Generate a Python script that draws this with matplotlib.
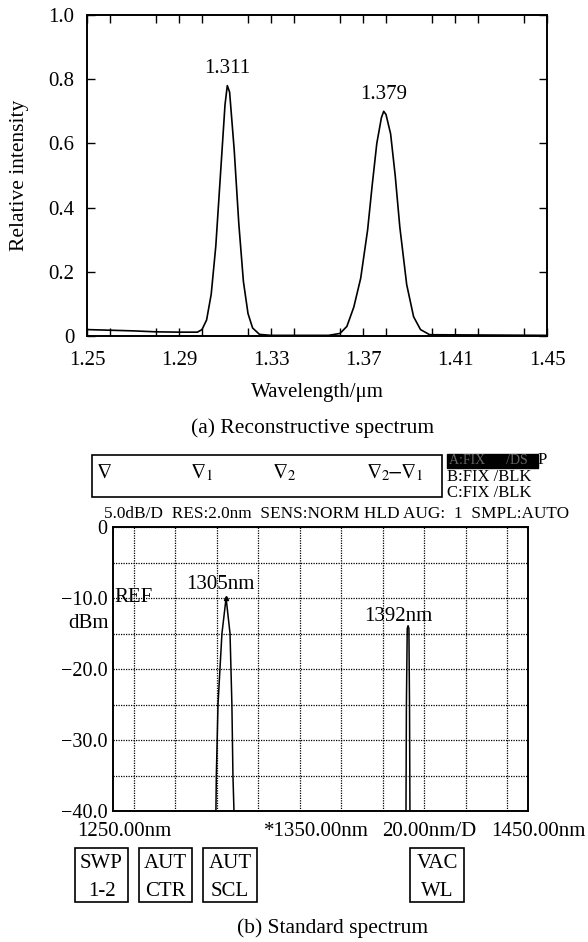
import matplotlib
matplotlib.use('Agg')
import matplotlib.pyplot as plt
from matplotlib.patches import Rectangle
from matplotlib.ticker import MultipleLocator

plt.rcParams['font.family'] = ['Liberation Serif', 'DejaVu Serif']
plt.rcParams['mathtext.fontset'] = 'stix'

W, H = 588, 942

# (a) reconstructive spectrum
recon_wl = [1.250, 1.260, 1.270, 1.280, 1.290, 1.298, 1.300, 1.302, 1.304, 1.306,
            1.308, 1.310, 1.311, 1.312, 1.314, 1.316, 1.318, 1.320, 1.322, 1.325,
            1.330, 1.355, 1.360, 1.363, 1.366, 1.369, 1.372, 1.374, 1.376, 1.378,
            1.379, 1.380, 1.382, 1.384, 1.386, 1.389, 1.392, 1.395, 1.399, 1.450]
recon_int = [0.020, 0.018, 0.016, 0.013, 0.012, 0.012, 0.020, 0.050, 0.130, 0.280,
             0.500, 0.720, 0.780, 0.760, 0.580, 0.350, 0.170, 0.070, 0.025, 0.005,
             0.002, 0.002, 0.008, 0.030, 0.090, 0.180, 0.330, 0.470, 0.600, 0.680,
             0.700, 0.690, 0.630, 0.500, 0.340, 0.160, 0.060, 0.020, 0.004, 0.002]
peak_labels_a = ['1.311', '1.379']
peak_pos_a = [1.311, 1.379]
peak_val_a = [0.78, 0.70]

# (b) standard spectrum (OSA trace, nm / dBm)
osa_wl = [1250.0, 1299.0, 1299.6, 1299.8, 1300.6, 1302.5, 1304.5, 1306.4, 1307.3,
          1307.8, 1308.3, 1309.0, 1390.8, 1391.2, 1391.4, 1391.8, 1392.2, 1392.6,
          1392.9, 1393.1, 1393.5, 1450.0]
osa_dbm = [-45, -45, -40, -35, -25, -15, -10, -15, -25,
           -35, -40, -45, -45, -40, -25, -14.3, -13.9, -14.3,
           -25, -40, -45, -45]
peak_labels_b = ['1305nm', '1392nm']
peak_pos_b = [1304.5, 1392.2]
peak_val_b = [-10.0, -13.9]


def fx(x):
    return x / W


def fy(y):
    return 1 - y / H


fig = plt.figure(figsize=(W / 100, H / 100), dpi=100)

# ---------------- top panel ----------------
ax1 = fig.add_axes([fx(87), fy(336), fx(547) - fx(87), fy(15) - fy(336)])
ax1.plot(recon_wl, recon_int, color='black', lw=1.2)
ax1.set_xlim(1.25, 1.45)
ax1.set_ylim(0, 1.0)
ax1.xaxis.set_minor_locator(MultipleLocator(0.02))
ax1.tick_params(which='both', direction='in', top=True, right=True, length=6, width=1)
ax1.set_xticks([1.25, 1.29, 1.33, 1.37, 1.41, 1.45])
ax1.set_xticklabels(['1.25', '1.29', '1.33', '1.37', '1.41', '1.45'], fontsize=15)
ax1.set_yticks([0, 0.2, 0.4, 0.6, 0.8, 1.0])
ax1.set_yticklabels(['0', '0.2', '0.4', '0.6', '0.8', '1.0'], fontsize=15)
ax1.tick_params(axis='x', pad=11)
ax1.tick_params(axis='y', pad=9)
for s in ax1.spines.values():
    s.set_linewidth(1.4)
ax1.set_xlabel('Wavelength/\u03bcm', fontsize=15, labelpad=9)
ax1.set_ylabel('Relative intensity', fontsize=15.5, labelpad=14)
for lab, xp, yp in zip(peak_labels_a, peak_pos_a, peak_val_a):
    ax1.text(xp, yp + 0.052, lab, ha='center', va='center', fontsize=15)

fig.text(fx(313), fy(428), '(a) Reconstructive spectrum', ha='center', va='center',
         fontsize=15.5)

# ---------------- OSA header ----------------
fig.patches.append(Rectangle((fx(92), fy(497)), fx(442) - fx(92), fy(455) - fy(497),
                             transform=fig.transFigure, fill=False, lw=1.2,
                             edgecolor='black'))
marks = [(104, r'$\nabla$'), (202, r'$\nabla_1$'), (284, r'$\nabla_2$'),
         (395, r'$\nabla_2\!\!-\!\!\nabla_1$')]
for xm, t in marks:
    fig.text(fx(xm), fy(473), t, ha='center', va='center', fontsize=15)

fig.patches.append(Rectangle((fx(447), fy(468)), fx(538) - fx(447), fy(454) - fy(468),
                             transform=fig.transFigure, facecolor='black',
                             edgecolor='black'))
fig.text(fx(449), fy(461), 'A:FIX      /DS', ha='left', va='center', fontsize=10,
         color='0.4')
fig.text(fx(538), fy(460), 'P', ha='left', va='center', fontsize=12)
fig.text(fx(447), fy(477), 'B:FIX /BLK', ha='left', va='center', fontsize=12)
fig.text(fx(447), fy(493), 'C:FIX /BLK', ha='left', va='center', fontsize=12)
fig.text(fx(104), fy(514), '5.0dB/D  RES:2.0nm  SENS:NORM HLD AUG:  1  SMPL:AUTO',
         ha='left', va='center', fontsize=12.4)

# ---------------- bottom panel ----------------
ax2 = fig.add_axes([fx(113), fy(811), fx(528) - fx(113), fy(527) - fy(811)])
ax2.plot(osa_wl, osa_dbm, color='black', lw=1.1)
ax2.set_xlim(1250, 1450)
ax2.set_ylim(-40, 0)
ax2.xaxis.set_major_locator(MultipleLocator(20))
ax2.grid(True, color='black', linestyle=(0, (1, 1)), lw=0.9)
ax2.set_xticklabels([])
ax2.set_yticks([0, -5, -10, -15, -20, -25, -30, -35, -40])
ax2.set_yticklabels(['0', '', '\u221210.0', '', '\u221220.0', '', '\u221230.0', '',
                     '\u221240.0'], fontsize=14.5)
ax2.tick_params(length=0, pad=4)
for s in ax2.spines.values():
    s.set_linewidth(1.4)
label_shift = [-3.0, -4.5]
label_gap = [0.5, 0.0]
for lab, xp, yp, dx, dy in zip(peak_labels_b, peak_pos_b, peak_val_b, label_shift,
                               label_gap):
    ax2.text(xp + dx, yp + dy, lab, ha='center', va='bottom', fontsize=15)
ax2.plot([peak_pos_b[0]], [peak_val_b[0]], marker='^', color='black', ms=3)

fig.text(fx(114), fy(598), 'REF', ha='left', va='center', fontsize=15)
fig.text(fx(109), fy(623), 'dBm', ha='right', va='center', fontsize=15)

fig.text(fx(77), fy(832), '1250.00nm', ha='left', va='center', fontsize=15)
fig.text(fx(264), fy(832), '*1350.00nm', ha='left', va='center', fontsize=15)
fig.text(fx(382), fy(832), '20.00nm/D', ha='left', va='center', fontsize=15)
fig.text(fx(586), fy(832), '1450.00nm', ha='right', va='center', fontsize=15)

buttons = [(75, 128, 'SWP', '1-2'), (139, 192, 'AUT', 'CTR'),
           (203, 257, 'AUT', 'SCL'), (410, 464, 'VAC', 'WL')]
for x0, x1, l1, l2 in buttons:
    fig.patches.append(Rectangle((fx(x0), fy(902)), fx(x1) - fx(x0), fy(848) - fy(902),
                                 transform=fig.transFigure, fill=False, lw=1.2,
                                 edgecolor='black'))
    fig.text(fx((x0 + x1) / 2), fy(863), l1, ha='center', va='center', fontsize=15)
    fig.text(fx((x0 + x1) / 2), fy(891), l2, ha='center', va='center', fontsize=15)

fig.text(fx(333), fy(928), '(b) Standard spectrum', ha='center', va='center',
         fontsize=15.5)

fig.savefig('out.png', dpi=100)
